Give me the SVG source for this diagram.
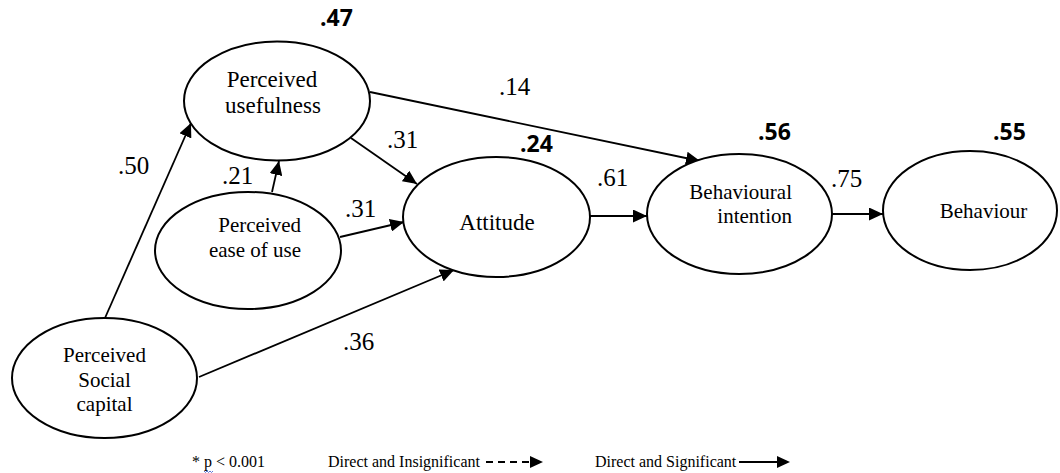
<svg xmlns="http://www.w3.org/2000/svg" width="1060" height="473" viewBox="0 0 1060 473">
<defs>
<style>
.node ellipse{fill:#fff;stroke:#000;stroke-width:2}
.nt{font-family:"Liberation Serif","Times New Roman",serif;font-size:21px;fill:#000}
.nt.big{font-size:23px}
.el{font-family:"Liberation Serif","Times New Roman",serif;font-size:25px;fill:#000}
.r2{font-family:"Open Sans","Liberation Sans",sans-serif;font-size:23px;font-weight:700;fill:#000}
.lg{font-family:"Liberation Serif","Times New Roman",serif;font-size:16px;fill:#000}
.conn line{stroke:#000;stroke-width:1.8;fill:none}
</style>
<marker id="ah" markerUnits="userSpaceOnUse" markerWidth="15" markerHeight="13" refX="14" refY="6.5" orient="auto">
<path d="M0,0 L14,6.5 L0,13 z" fill="#000"/>
</marker>
</defs>
<rect width="1060" height="473" fill="#fff"/>

<g id="connectors" class="conn">
<line x1="105" y1="318" x2="191" y2="123" marker-end="url(#ah)"/>
<line x1="272" y1="192" x2="279" y2="161" marker-end="url(#ah)"/>
<line x1="351" y1="138" x2="417" y2="184" marker-end="url(#ah)"/>
<line x1="340" y1="237" x2="404" y2="222" marker-end="url(#ah)"/>
<line x1="199" y1="377" x2="454" y2="270" marker-end="url(#ah)"/>
<line x1="370" y1="92" x2="700" y2="161" marker-end="url(#ah)"/>
<line x1="590" y1="216" x2="647" y2="216" marker-end="url(#ah)"/>
<line x1="832" y1="214" x2="883" y2="214" marker-end="url(#ah)"/>
</g>

<g id="node-pu" class="node">
<ellipse cx="277" cy="101" rx="93" ry="59.5"/>
<text class="nt big" x="272" y="87" text-anchor="middle">Perceived</text>
<text class="nt big" x="273" y="113" text-anchor="middle">usefulness</text>
</g>
<g id="node-peou" class="node">
<ellipse cx="248" cy="250.5" rx="93" ry="58.5"/>
<text class="nt" x="301" y="232" text-anchor="end">Perceived</text>
<text class="nt" x="301" y="257" text-anchor="end">ease of use</text>
</g>
<g id="node-psc" class="node">
<ellipse cx="104.5" cy="378" rx="92.5" ry="60"/>
<text class="nt" x="104.5" y="362" text-anchor="middle">Perceived</text>
<text class="nt" x="104.5" y="387" text-anchor="middle">Social</text>
<text class="nt" x="104.5" y="411" text-anchor="middle">capital</text>
</g>
<g id="node-att" class="node">
<ellipse cx="496.5" cy="217" rx="93.5" ry="60"/>
<text class="nt big" x="497" y="230" text-anchor="middle">Attitude</text>
</g>
<g id="node-bi" class="node">
<ellipse cx="739.5" cy="214" rx="92.5" ry="60"/>
<text class="nt" x="792" y="199" text-anchor="end">Behavioural</text>
<text class="nt" x="792" y="223" text-anchor="end">intention</text>
</g>
<g id="node-beh" class="node">
<ellipse cx="970" cy="210.5" rx="87" ry="59.5"/>
<text class="nt" x="983.5" y="218" text-anchor="middle">Behaviour</text>
</g>

<g id="r2-labels">
<text class="r2" x="320" y="26">.47</text>
<text class="r2" x="520" y="152">.24</text>
<text class="r2" x="758" y="140">.56</text>
<text class="r2" x="993" y="140">.55</text>
</g>

<g id="edge-labels">
<text class="el" x="499" y="95">.14</text>
<text class="el" x="387" y="148">.31</text>
<text class="el" x="118" y="174">.50</text>
<text class="el" x="222" y="184">.21</text>
<text class="el" x="345" y="217">.31</text>
<text class="el" x="343" y="350">.36</text>
<text class="el" x="597" y="186">.61</text>
<text class="el" x="831" y="187">.75</text>
</g>

<g id="legend">
<text class="lg" x="192" y="467">* p &lt; 0.001</text>
<path d="M204,471 l1.5,1.5 l1.5,-1.5 l1.5,1.5 l1.5,-1.5 l1.5,1.5 l1.5,-1.5" fill="none" stroke="#3355cc" stroke-width="0.8"/>
<text class="lg" x="328" y="467">Direct and Insignificant</text>
<line x1="486" y1="462" x2="530" y2="462" stroke="#000" stroke-width="2.2" stroke-dasharray="7 5"/>
<path d="M530,456 L543,462 L530,468 z" fill="#000"/>
<text class="lg" x="595" y="467">Direct and Significant</text>
<line x1="739" y1="462" x2="778" y2="462" stroke="#000" stroke-width="1.8"/>
<path d="M777,456 L790,462 L777,468 z" fill="#000"/>
</g>
</svg>
